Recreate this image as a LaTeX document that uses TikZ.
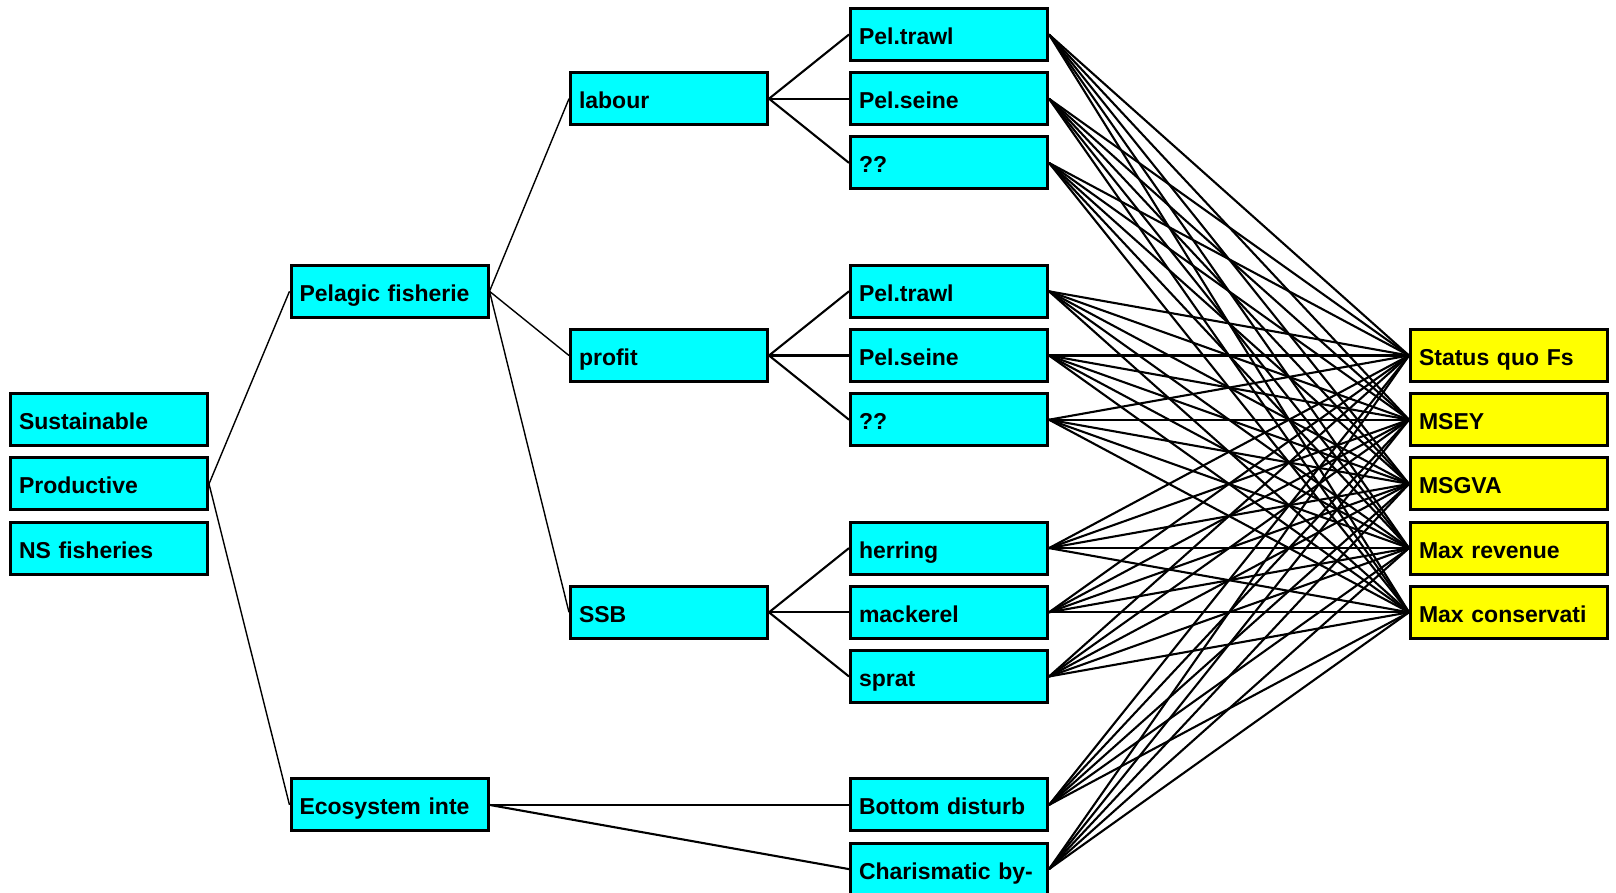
\documentclass[tikz,border=0pt]{standalone}
\usepackage{fontspec}
\setmainfont{Liberation Sans}
\definecolor{boxcyan}{HTML}{00FFFF}
\definecolor{boxyellow}{HTML}{FFFF00}
\begin{document}
\begin{tikzpicture}[x=1pt,y=-1pt,
  box/.style={draw=black, line width=3pt, rectangle, minimum width=197pt, minimum height=52pt,
    inner xsep=8.5pt, inner ysep=0pt, text width=180pt, align=left, text height=20pt, text depth=0pt,
    font=\fontsize{23}{27}\selectfont\bfseries},
  cbox/.style={box, fill=boxcyan},
  ybox/.style={box, fill=boxyellow},
  tree/.style={line width=1.4pt},
  cross/.style={line width=2.1pt}]
\useasboundingbox (0,0) rectangle (1616,892);
\fill[white] (0,0) rectangle (1616,892);
% column 1
\node[cbox] (s1) at (109,{34.5+64.2*6}) {Sustainable};
\node[cbox] (s2) at (109,{34.5+64.2*7}) {Productive};
\node[cbox] (s3) at (109,{34.5+64.2*8}) {NS fisheries};
% column 2
\node[cbox] (pel) at (389.5,{34.5+64.2*4}) {Pelagic fisherie};
\node[cbox] (eco) at (389.5,{34.5+64.2*12}) {Ecosystem inte};
% column 3
\node[cbox] (lab) at (669,{34.5+64.2*1}) {labour};
\node[cbox] (pro) at (669,{34.5+64.2*5}) {profit};
\node[cbox] (ssb) at (669,{34.5+64.2*9}) {SSB};
% column 4
\node[cbox] (t1) at (949,{34.5+64.2*0}) {Pel.trawl};
\node[cbox] (e1) at (949,{34.5+64.2*1}) {Pel.seine};
\node[cbox] (q1) at (949,{34.5+64.2*2}) {??};
\node[cbox] (t2) at (949,{34.5+64.2*4}) {Pel.trawl};
\node[cbox] (e2) at (949,{34.5+64.2*5}) {Pel.seine};
\node[cbox] (q2) at (949,{34.5+64.2*6}) {??};
\node[cbox] (her) at (949,{34.5+64.2*8}) {herring};
\node[cbox] (mac) at (949,{34.5+64.2*9}) {mackerel};
\node[cbox] (spr) at (949,{34.5+64.2*10}) {sprat};
\node[cbox] (bot) at (949,{34.5+64.2*12}) {Bottom disturb};
\node[cbox] (cha) at (949,{34.5+64.2*13}) {Charismatic by-};
% column 5
\node[ybox] (sq) at (1509,{34.5+64.2*5}) {Status quo Fs};
\node[ybox] (msey) at (1509,{34.5+64.2*6}) {MSEY};
\node[ybox] (msgva) at (1509,{34.5+64.2*7}) {MSGVA};
\node[ybox] (maxr) at (1509,{34.5+64.2*8}) {Max revenue};
\node[ybox] (maxc) at (1509,{34.5+64.2*9}) {Max conservati};
% tree connectors
\draw[tree] (s2.east) -- (pel.west);
\draw[tree] (s2.east) -- (eco.west);
\draw[tree] (pel.east) -- (lab.west);
\draw[tree] (pel.east) -- (pro.west);
\draw[tree] (pel.east) -- (ssb.west);
\foreach \p/\a/\b/\c in {lab/t1/e1/q1, pro/t2/e2/q2, ssb/her/mac/spr}{
  \draw[cross] (\p.east) -- (\a.west);
  \draw[cross] (\p.east) -- (\b.west);
  \draw[cross] (\p.east) -- (\c.west);
}
\draw[cross] (eco.east) -- (bot.west);
\draw[cross] (eco.east) -- (cha.west);
% option connectors
\foreach \s in {t1,e1,q1,t2,e2,q2,her,mac,spr,bot,cha}{
  \foreach \t in {sq,msey,msgva,maxr,maxc}{
    \draw[cross] (\s.east) -- (\t.west);
  }
}
\end{tikzpicture}
\end{document}
